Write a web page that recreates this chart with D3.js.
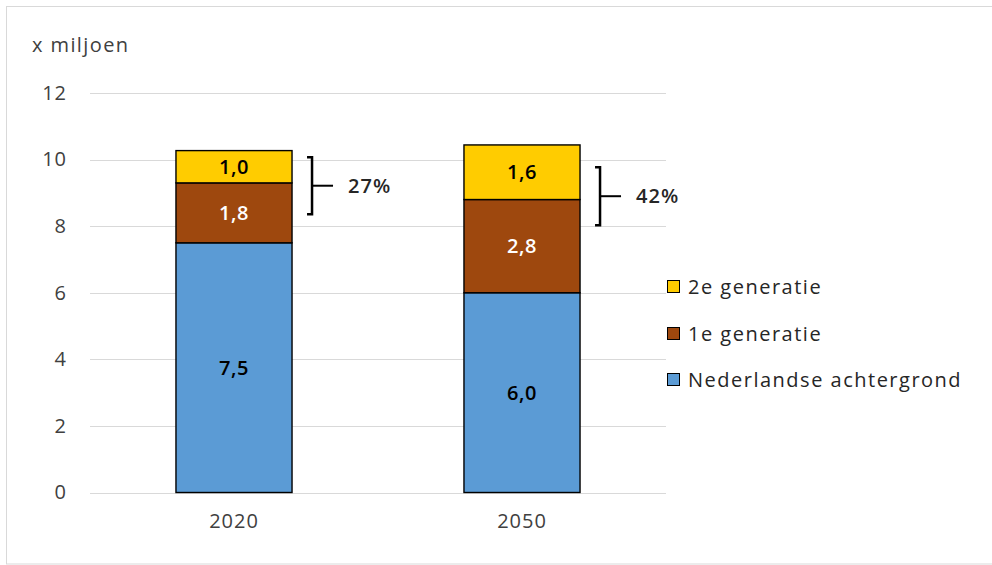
<!DOCTYPE html>
<html>
<head>
<meta charset="utf-8">
<script src="https://cdn.jsdelivr.net/npm/d3@7"></script>
<style>
  body { margin: 0; background: #fff; }
  text { font-family: "Open Sans", "Noto Sans", sans-serif; }
</style>
</head>
<body>
<svg id="chart" width="992" height="565"></svg>
<script>
// ---DATA---//
var years = [ "2020", "2050" ];
var seriesNames = [ "Nederlandse achtergrond", "1e generatie", "2e generatie" ];
var nederlands = [ 7.5, 6.0 ];
var eersteGen = [ 1.8, 2.8 ];
var tweedeGen = [ 0.97, 1.64 ];
var yTicks = [ 0, 2, 4, 6, 8, 10, 12 ];
var shareLabels = [ "27%", "42%" ];
var bracketTop = [ 10.07, 9.77 ];    // bracket extent in axis units
var bracketBottom = [ 8.36, 8.03 ];

var colors = [ "#5B9BD5", "#9E480E", "#FFCC00" ];
var labelColors = [ "#000000", "#ffffff", "#000000" ];

// ---SETUP---//
var svg = d3.select("#chart");

// outer chart border
svg.append("rect")
	.attr("x", 6.5).attr("y", 6.5)
	.attr("width", 990).attr("height", 557.5)
	.attr("fill", "none")
	.attr("stroke", "#d9d9d9");

var x = d3.scaleBand().domain(years).range([ 90, 666 ])
	.paddingInner(0.597).paddingOuter(0.2985);
var y = d3.scaleLinear().domain([ 0, 12 ]).range([ 492.5, 93 ]);

// gridlines
svg.append("g").selectAll("line").data(yTicks).enter().append("line")
	.attr("x1", 90).attr("x2", 666)
	.attr("y1", function(d) { return Math.round(y(d)) + 0.5; })
	.attr("y2", function(d) { return Math.round(y(d)) + 0.5; })
	.attr("stroke", "#d9d9d9")
	.attr("stroke-width", 1);

// y axis labels
var yAxis = d3.axisLeft(y).tickValues(yTicks).tickSize(0).tickPadding(0);
svg.append("g").attr("transform", "translate(67,0)").call(yAxis)
	.call(function(g) { g.select(".domain").remove(); })
	.selectAll("text")
	.attr("font-family", "Open Sans")
	.attr("font-size", "20px")
	.attr("letter-spacing", "1px")
	.attr("fill", "#404040");

// x axis labels
var xAxis = d3.axisBottom(x).tickSize(0).tickPadding(0);
svg.append("g").attr("transform", "translate(0,514)").call(xAxis)
	.call(function(g) { g.select(".domain").remove(); })
	.selectAll("text")
	.attr("font-family", "Open Sans")
	.attr("font-size", "20px")
	.attr("letter-spacing", "1px")
	.attr("fill", "#404040");

// unit label
svg.append("text")
	.attr("x", 32).attr("y", 45).attr("dy", "0.35em")
	.attr("font-size", "20px")
	.attr("letter-spacing", "1.4px")
	.attr("fill", "#404040")
	.text("x miljoen");

// ---STACKED BARS---//
var rows = years.map(function(yr, i) {
	return { year: yr, ned: nederlands[i], g1: eersteGen[i], g2: tweedeGen[i] };
});
var stack = d3.stack().keys([ "ned", "g1", "g2" ]);
var layers = stack(rows);

var layerG = svg.selectAll("g.layer").data(layers).enter().append("g")
	.attr("class", "layer")
	.attr("fill", function(d, i) { return colors[i]; });

layerG.selectAll("rect").data(function(d) { return d; }).enter().append("rect")
	.attr("x", function(d) { return x(d.data.year); })
	.attr("y", function(d) { return y(d[1]); })
	.attr("width", x.bandwidth())
	.attr("height", function(d) { return y(d[0]) - y(d[1]); })
	.attr("stroke", "#000")
	.attr("stroke-width", 1.4);

var fmt = function(v) { return d3.format(".1f")(v).replace(".", ","); };

layerG.each(function(layer, li) {
	d3.select(this).selectAll("text").data(layer).enter().append("text")
		.attr("x", function(d) { return x(d.data.year) + x.bandwidth() / 2; })
		.attr("y", function(d) { return (y(d[0]) + y(d[1])) / 2; })
		.attr("dy", "0.36em")
		.attr("text-anchor", "middle")
		.attr("font-size", "20px")
		.attr("font-weight", "600")
		.attr("letter-spacing", "0.5px")
		.attr("fill", labelColors[li])
		.text(function(d) { return fmt(d[1] - d[0]); });
});

// ---BRACKETS---//
years.forEach(function(yr, i) {
	var bx = x(yr) + x.bandwidth() + 20;
	var top = y(bracketTop[i]);
	var bot = y(bracketBottom[i]);
	var mid = (top + bot) / 2;
	svg.append("path")
		.attr("d", "M" + (bx - 5) + "," + top + "H" + bx + "V" + bot + "H" + (bx - 5))
		.attr("fill", "none").attr("stroke", "#000").attr("stroke-width", 2.5);
	svg.append("line")
		.attr("x1", bx).attr("x2", bx + 21).attr("y1", mid).attr("y2", mid)
		.attr("stroke", "#000").attr("stroke-width", 2);
	svg.append("text")
		.attr("x", bx + 36).attr("y", mid).attr("dy", "0.36em")
		.attr("font-size", "20px")
		.attr("font-weight", "600")
		.attr("letter-spacing", "1px")
		.attr("fill", "#262626")
		.text(shareLabels[i]);
});

// ---LEGEND---//
var legendY = [ 380, 334, 287 ];
var legend = svg.append("g").selectAll("g").data(seriesNames).enter().append("g")
	.attr("transform", function(d, i) { return "translate(667," + legendY[i] + ")"; });
legend.append("rect")
	.attr("x", 0.5).attr("y", -6.5).attr("width", 12).attr("height", 12)
	.attr("fill", function(d, i) { return colors[i]; })
	.attr("stroke", "#000").attr("stroke-width", 1);
legend.append("text")
	.attr("x", 21).attr("y", 0).attr("dy", "0.36em")
	.attr("font-size", "20px")
	.attr("letter-spacing", "1.5px")
	.attr("fill", "#262626")
	.text(function(d) { return d; });
</script>
</body>
</html>
